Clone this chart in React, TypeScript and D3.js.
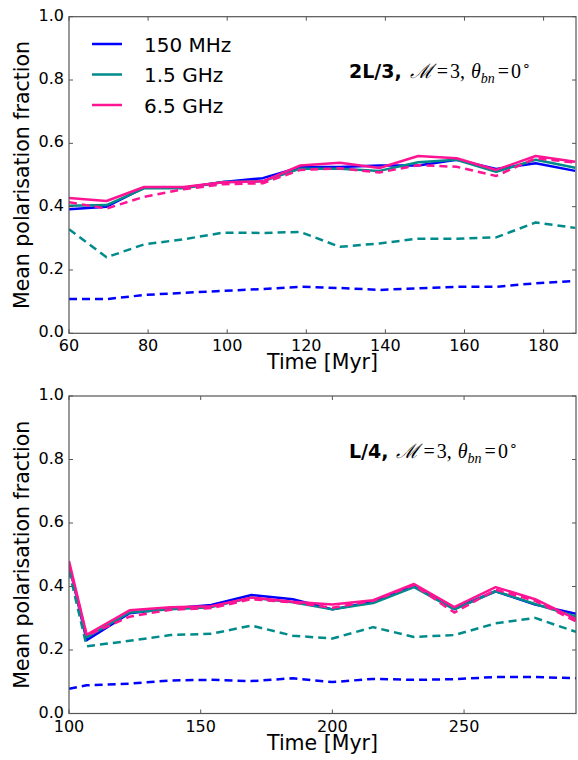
import React from "react";
import * as d3 from "d3";

// ---------- data ----------
const topTimes = [60, 69.5, 79, 89, 99, 109, 118.5, 128.5, 138.5, 148.3, 158, 168, 178, 188];
const top150Solid = [0.392, 0.4, 0.46, 0.46, 0.478, 0.49, 0.525, 0.525, 0.53, 0.53, 0.548, 0.519, 0.537, 0.513];
const top150Dashed = [0.108, 0.108, 0.121, 0.128, 0.134, 0.14, 0.147, 0.143, 0.137, 0.142, 0.147, 0.147, 0.158, 0.165];
const top1p5Solid = [0.403, 0.405, 0.458, 0.458, 0.478, 0.48, 0.52, 0.52, 0.513, 0.54, 0.548, 0.51, 0.548, 0.523];
const top1p5Dashed = [0.329, 0.24, 0.281, 0.297, 0.318, 0.317, 0.32, 0.273, 0.284, 0.299, 0.299, 0.303, 0.35, 0.333];
const top6p5Solid = [0.427, 0.418, 0.462, 0.462, 0.477, 0.48, 0.53, 0.539, 0.522, 0.56, 0.553, 0.516, 0.56, 0.542];
const top6p5Dashed = [0.414, 0.394, 0.431, 0.455, 0.471, 0.474, 0.516, 0.521, 0.508, 0.531, 0.526, 0.497, 0.553, 0.539];

const botTimes = [100, 106.7, 123, 138.5, 154, 169.3, 185, 200, 215.5, 231, 246.3, 262, 277, 292.5];
const bot150Solid = [0.47, 0.231, 0.316, 0.331, 0.342, 0.373, 0.36, 0.328, 0.352, 0.4, 0.33, 0.385, 0.343, 0.314];
const bot150Dashed = [0.078, 0.089, 0.094, 0.104, 0.106, 0.102, 0.111, 0.099, 0.109, 0.106, 0.108, 0.115, 0.115, 0.111];
const bot1p5Solid = [0.47, 0.24, 0.318, 0.328, 0.335, 0.365, 0.35, 0.328, 0.348, 0.398, 0.328, 0.385, 0.345, 0.305];
const bot1p5Dashed = [0.45, 0.212, 0.229, 0.247, 0.251, 0.277, 0.245, 0.236, 0.272, 0.241, 0.247, 0.284, 0.301, 0.257];
const bot6p5Solid = [0.48, 0.248, 0.325, 0.335, 0.338, 0.365, 0.352, 0.343, 0.357, 0.408, 0.335, 0.398, 0.36, 0.297];
const bot6p5Dashed = [0.47, 0.245, 0.305, 0.327, 0.332, 0.36, 0.35, 0.333, 0.355, 0.405, 0.318, 0.39, 0.355, 0.29];

const legendLabels = ["150 MHz", "1.5 GHz", "6.5 GHz"];
const colors = ["#0000ff", "#008b8b", "#ff1493"];
const yTicks = [0, 0.2, 0.4, 0.6, 0.8, 1.0];
const topXTicks = [60, 80, 100, 120, 140, 160, 180];
const botXTicks = [100, 150, 200, 250];

const FONT = "DejaVu Sans, sans-serif";
const SERIF = "Liberation Serif, serif";

type PanelProps = {
  top: number;
  bottom: number;
  xDomain: [number, number];
  xTicks: number[];
  times: number[];
  series: { vals: number[]; color: string; dashed: boolean }[];
  label: string;
  annY: number;
  legend: boolean;
};

const LEFT = 69;
const RIGHT = 576;

function Panel(p: PanelProps) {
  const x = d3.scaleLinear().domain(p.xDomain).range([LEFT, RIGHT]);
  const y = d3.scaleLinear().domain([0, 1]).range([p.bottom, p.top]);
  const line = d3
    .line<[number, number]>()
    .x((d) => x(d[0]))
    .y((d) => y(d[1]));
  const tl = 4;
  return (
    <g>
      <defs>
        <clipPath id={"clip" + Math.round(p.top)}>
          <rect x={LEFT} y={p.top} width={RIGHT - LEFT} height={p.bottom - p.top} />
        </clipPath>
      </defs>
      <g clipPath={`url(#clip${Math.round(p.top)})`}>
        {p.series.map((s, i) => (
          <path
            key={i}
            d={line(p.times.map((t, j) => [t, s.vals[j]] as [number, number])) || ""}
            fill="none"
            stroke={s.color}
            strokeWidth={2.5}
            strokeDasharray={s.dashed ? "8,5" : undefined}
            strokeLinejoin="round"
          />
        ))}
      </g>
      <rect
        x={LEFT}
        y={p.top}
        width={RIGHT - LEFT}
        height={p.bottom - p.top}
        fill="none"
        stroke="#555"
        strokeWidth={1.2}
      />
      {p.xTicks.map((t) => (
        <g key={"x" + t}>
          <line x1={x(t)} x2={x(t)} y1={p.bottom} y2={p.bottom - tl} stroke="#555" />
          <line x1={x(t)} x2={x(t)} y1={p.top} y2={p.top + tl} stroke="#555" />
          <text
            x={x(t)}
            y={p.bottom + 18}
            textAnchor="middle"
            fontFamily={FONT}
            fontSize={16}
            fill="#000"
          >
            {t}
          </text>
        </g>
      ))}
      {yTicks.map((t) => (
        <g key={"y" + t}>
          <line x1={LEFT} x2={LEFT + tl} y1={y(t)} y2={y(t)} stroke="#555" />
          <line x1={RIGHT} x2={RIGHT - tl} y1={y(t)} y2={y(t)} stroke="#555" />
          <text
            x={64}
            y={y(t) + 4}
            textAnchor="end"
            fontFamily={FONT}
            fontSize={16}
            fill="#000"
          >
            {t.toFixed(1)}
          </text>
        </g>
      ))}
      <text
        x={(LEFT + RIGHT) / 2}
        y={p.bottom + 36}
        textAnchor="middle"
        fontFamily={FONT}
        fontSize={20.5}
        fill="#000"
      >
        Time [Myr]
      </text>
      <text
        transform={`translate(29,${(p.top + p.bottom) / 2}) rotate(-90)`}
        textAnchor="middle"
        fontFamily={FONT}
        fontSize={20.5}
        fill="#000"
      >
        Mean polarisation fraction
      </text>
      <text x={349} y={p.annY} fontSize={20} fill="#000">
        <tspan fontFamily={FONT} fontWeight="bold" fontSize={19}>{p.label}</tspan>
        <tspan fontFamily={SERIF} fontStyle="italic" dx={8}>ℳ</tspan>
        <tspan fontFamily={SERIF} dx={4}>=</tspan>
        <tspan fontFamily={SERIF} dx={2}>3,</tspan>
        <tspan fontFamily={SERIF} fontStyle="italic" dx={6}>θ</tspan>
        <tspan fontFamily={SERIF} fontStyle="italic" fontSize={14} dy={5}>bn</tspan>
        <tspan fontFamily={SERIF} dy={-5} dx={3}>=</tspan>
        <tspan fontFamily={SERIF} dx={2}>0</tspan>
        <tspan fontFamily={SERIF} fontSize={14} dy={-8} dx={1}>∘</tspan>
      </text>
      {p.legend &&
        legendLabels.map((l, i) => (
          <g key={l}>
            <line
              x1={92}
              x2={122}
              y1={44 + i * 30.5}
              y2={44 + i * 30.5}
              stroke={colors[i]}
              strokeWidth={2.5}
            />
            <text
              x={144}
              y={44 + i * 30.5 + 7.5}
              fontFamily={FONT}
              fontSize={20}
              fill="#000"
            >
              {l}
            </text>
          </g>
        ))}
    </g>
  );
}

export default function App() {
  const topSeries = [
    { vals: top150Solid, color: colors[0], dashed: false },
    { vals: top1p5Solid, color: colors[1], dashed: false },
    { vals: top6p5Solid, color: colors[2], dashed: false },
    { vals: top150Dashed, color: colors[0], dashed: true },
    { vals: top1p5Dashed, color: colors[1], dashed: true },
    { vals: top6p5Dashed, color: colors[2], dashed: true },
  ];
  const botSeries = [
    { vals: bot150Solid, color: colors[0], dashed: false },
    { vals: bot1p5Solid, color: colors[1], dashed: false },
    { vals: bot6p5Solid, color: colors[2], dashed: false },
    { vals: bot150Dashed, color: colors[0], dashed: true },
    { vals: bot1p5Dashed, color: colors[1], dashed: true },
    { vals: bot6p5Dashed, color: colors[2], dashed: true },
  ];
  return (
    <svg
      width={578}
      height={760}
      style={{ position: "absolute", left: 0, top: 0, background: "#fff" }}
    >
      <rect width={578} height={760} fill="#fff" />
      <Panel
        top={16.7}
        bottom={333.3}
        xDomain={[60, 188.2]}
        xTicks={topXTicks}
        times={topTimes}
        series={topSeries}
        label="2L/3,"
        annY={78}
        legend={true}
      />
      <Panel
        top={396}
        bottom={713.5}
        xDomain={[100, 292.5]}
        xTicks={botXTicks}
        times={botTimes}
        series={botSeries}
        label="L/4,"
        annY={458}
        legend={false}
      />
    </svg>
  );
}
